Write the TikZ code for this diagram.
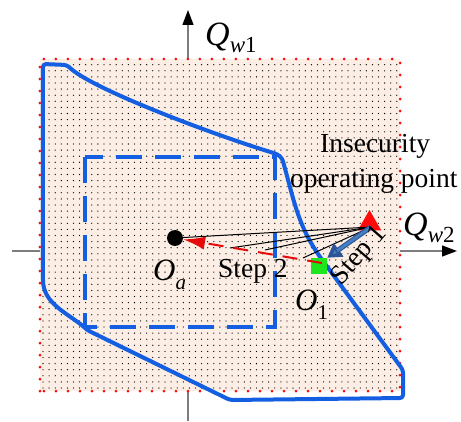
\documentclass[tikz,border=0pt]{standalone}
\usepackage{fontspec}
\setmainfont{Liberation Serif}
\newfontfamily\tnr{Liberation Serif}
\usetikzlibrary{arrows.meta,shapes.geometric}

\definecolor{fillbg}{RGB}{252,238,228}
\definecolor{bblue}{RGB}{20,95,225}
\definecolor{stepblue}{RGB}{70,125,195}
\definecolor{stepdark}{RGB}{45,85,150}
\definecolor{mkred}{RGB}{255,10,10}
\definecolor{mkgreen}{RGB}{30,230,30}
\definecolor{axgray}{RGB}{125,125,125}

\newcommand{\qlbl}[1]{{\tnr\fontsize{34}{34}\selectfont\itshape Q}\raisebox{-7pt}{\tnr\fontsize{23}{23}\selectfont #1}}
\newcommand{\olbl}[1]{{\tnr\fontsize{31}{31}\selectfont\itshape O}\raisebox{-9pt}{\tnr\fontsize{21}{21}\selectfont #1}}

\begin{document}
\begin{tikzpicture}[x=1pt, y=1pt,
  axis/.style={draw=axgray, line width=1.3pt, -{Triangle[length=15pt,width=11pt,black]}},
  boundary/.style={draw=bblue, line width=4pt, line join=round, rounded corners=3pt},
  ray/.style={draw=black, line width=1pt},
  txt/.style={inner sep=0pt, font=\tnr\fontsize{27.5}{35}\selectfont}]
  \useasboundingbox (-188,-170) rectangle (273,251);

  % axes
  \coordinate (xs) at (-176,0);
  \coordinate (xe) at (269,0);
  \coordinate (ys) at (0,-170);
  \coordinate (ye) at (0,241);
  \draw[axis] (xs) -- (xe);
  \draw[axis] (ys) -- (ye);

  % dotted region
  \fill[fillbg] (-148,-140) rectangle (212,192);
  \foreach \i in {0,...,58}
    \foreach \j in {0,...,53}
      \fill (-145+\i*6.1, -137+\j*6.1) circle (0.65pt);
  \draw[mkred, line width=3pt, line cap=round, dash pattern=on 0pt off 12pt]
    (-148,-140) rectangle (212,192);

  % security boundary
  \draw[boundary] (-145,-26) -- (-145,187) -- (-121,186)
    .. controls (-97,162) and (29,115) .. (89,97)
    -- (94,93) to[out=-74,in=126] (135,-10)
    -- (215,-119) -- (215,-147) -- (42,-149) -- (-101,-79) -- (-105,-75)
    to[out=143,in=-90] (-145,-26) -- cycle;
  \draw[bblue, line width=3.5pt, dash pattern=on 26pt off 13pt] (-103,94) rectangle (87,-76);

  % points
  \node[circle, fill=black, inner sep=0pt, minimum size=16pt] (Oa) at (-13,13) {};
  \node[regular polygon, regular polygon sides=3, fill=mkred, inner sep=0pt, minimum size=27pt] (ins) at (181.5,27.5) {};
  \node[rectangle, fill=mkgreen, inner sep=0pt, minimum size=16pt] (O1) at (131,-15) {};
  \coordinate (P) at (183,24);
  \coordinate (d0) at (134,-12);
  \coordinate (e1) at (42,3);
  \coordinate (e2) at (77,1);
  \coordinate (e3) at (115,-7);

  % paths
  \draw[ray] (P) -- (Oa);
  \draw[ray] (P) -- (e1);
  \draw[ray] (P) -- (e2);
  \draw[ray] (P) -- (e3);
  \draw[mkred!90!black, line width=2pt, dash pattern=on 15pt off 10pt,
    -{Latex[length=22pt,width=13pt]}] (d0) -- (Oa);
  \draw[stepdark, line width=5pt, -{Triangle[length=14pt,width=16pt,fill=stepblue]}] (P) -- (O1.north east);
  \draw[stepblue, line width=2.8pt, shorten >=12pt] (P) -- (O1.north east);

  % labels
  \node[anchor=base west, inner sep=0pt] (qw1) at (17,205) {\qlbl{\itshape w\upshape 1}};
  \node[anchor=base west, inner sep=0pt] (qw2) at (215,16) {\qlbl{\itshape w\upshape 2}};
  \node[anchor=base west, inner sep=0pt] (loa) at (-35,-29) {\olbl{\itshape a}};
  \node[anchor=base west, inner sep=0pt] (lo1) at (107,-59) {\olbl{1}};
  \node[txt, anchor=base west] (s2) at (30,-26) {Step 2};
  \node[txt, rotate=49] (s1) at (172,-5) {Step 1};
  \node[txt, anchor=base west] (ins1) at (132,99) {Insecurity};
  \node[txt, anchor=base west] (ins2) at (102,64) {operating point};
\end{tikzpicture}
\end{document}
